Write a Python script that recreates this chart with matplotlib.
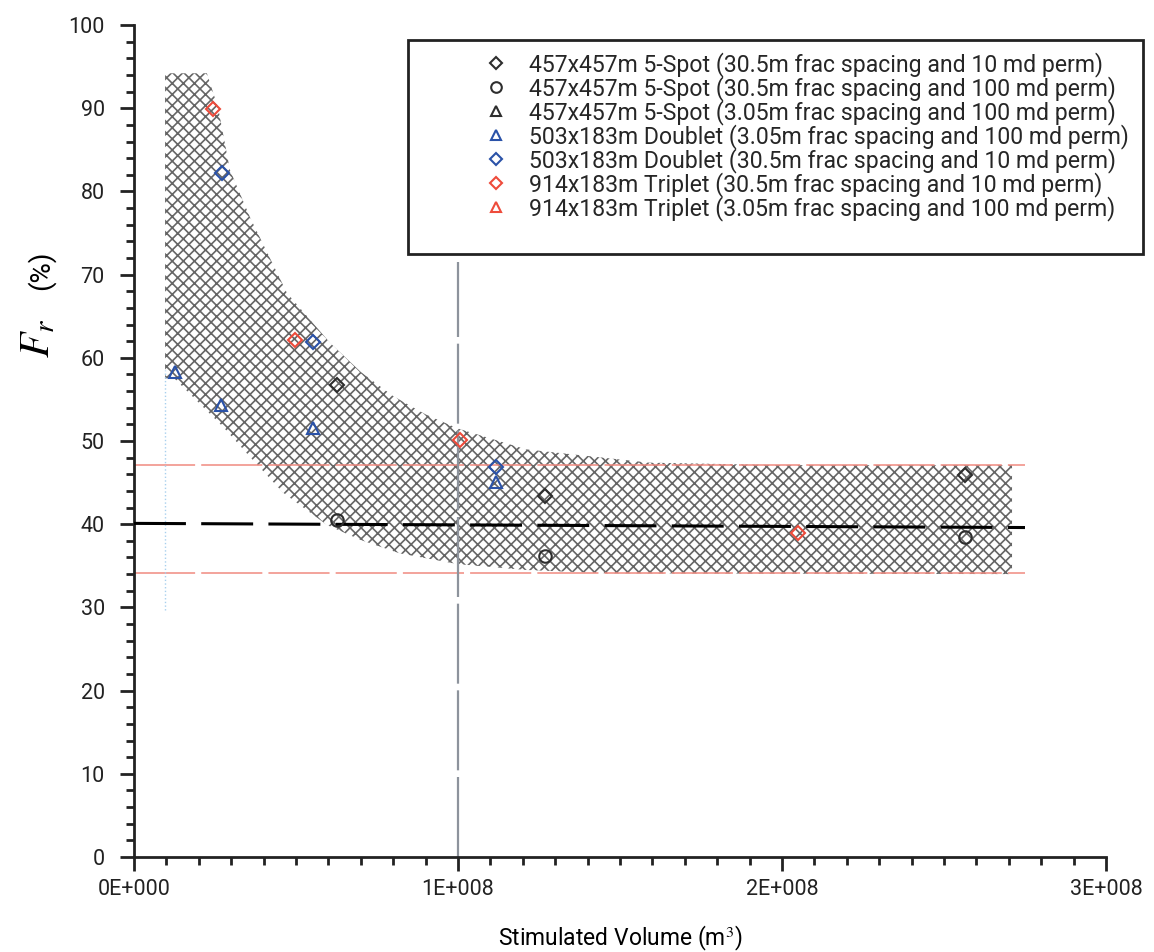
import matplotlib
matplotlib.use("Agg")
import matplotlib.pyplot as plt
from matplotlib.patches import Rectangle
from matplotlib.ticker import MultipleLocator, FuncFormatter

plt.rcParams['font.family'] = ['Roboto', 'DejaVu Sans']
plt.rcParams['mathtext.fontset'] = 'stix'
plt.rcParams['hatch.linewidth'] = 1.2

# data (volume in m3, Fr in %)
vol_5spot_10md = [6.27e7, 1.27e8, 2.565e8]
fr_5spot_10md = [56.7, 43.4, 45.9]
vol_5spot_100md = [6.27e7, 1.27e8, 2.565e8]
fr_5spot_100md = [40.5, 36.2, 38.5]
vol_5spot_305 = []
fr_5spot_305 = []
vol_doublet_305 = [1.27e7, 2.69e7, 5.52e7, 1.117e8]
fr_doublet_305 = [58.3, 54.3, 51.6, 45.1]
vol_doublet_30 = [2.71e7, 5.52e7, 1.117e8]
fr_doublet_30 = [82.2, 61.9, 46.9]
vol_triplet_30 = [2.44e7, 4.97e7, 1.006e8, 2.05e8]
fr_triplet_30 = [89.9, 62.1, 50.1, 38.9]
vol_triplet_305 = []
fr_triplet_305 = []

labels = [
    "457x457m 5-Spot (30.5m frac spacing and 10 md perm)",
    "457x457m 5-Spot (30.5m frac spacing and 100 md perm)",
    "457x457m 5-Spot (3.05m frac spacing and 100 md perm)",
    "503x183m Doublet (3.05m frac spacing and 100 md perm)",
    "503x183m Doublet (30.5m frac spacing and 10 md perm)",
    "914x183m Triplet (30.5m frac spacing and 10 md perm)",
    "914x183m Triplet (3.05m frac spacing and 100 md perm)",
]

# envelope of the shaded band
band_up_x = [0.96e7, 2.25e7, 2.6e7, 2.96e7, 3.58e7, 4.72e7, 6.05e7, 7.0e7, 8.0e7, 9.0e7,
             1.0e8, 1.21e8, 1.59e8, 2.0e8, 2.71e8]
band_up_y = [94.2, 94.2, 90.0, 82.6, 76.9, 67.8, 61.8, 58.3, 55.4, 53.2,
             51.5, 49.0, 47.4, 47.1, 47.1]
band_lo_x = [0.96e7, 1.2e7, 2.75e7, 3.58e7, 4.6e7, 5.96e7, 7.0e7, 8.2e7, 1.0e8, 1.21e8, 1.46e8, 2.71e8]
band_lo_y = [57.5, 57.7, 51.7, 48.1, 43.8, 39.9, 38.1, 36.5, 35.2, 34.5, 34.1, 34.0]

mean_fr = [40.1, 39.6]
mean_x = [0, 2.75e8]
upper_fr = 47.1
lower_fr = 34.1
ref_vol = 1e8

black = '#2e2e2e'
blue = '#2a52a8'
red = '#ee4b3b'

fig = plt.figure(figsize=(11.54, 9.52), dpi=100)
ax = fig.add_axes([0.1161, 0.0998, 0.8423, 0.8739])

poly_x = band_up_x + band_lo_x[::-1]
poly_y = band_up_y + band_lo_y[::-1]
ax.fill(poly_x, poly_y, facecolor='none', edgecolor='#666666', hatch='xxx', linewidth=0, zorder=1)

ax.plot(mean_x, mean_fr, color='black', lw=2.2, dashes=(17, 5), zorder=3)
ax.plot(mean_x, [upper_fr, upper_fr], color='#f08a80', lw=1.1, dashes=(40, 4), zorder=2)
ax.plot(mean_x, [lower_fr, lower_fr], color='#f08a80', lw=1.1, dashes=(40, 4), zorder=2)
ax.plot([ref_vol, ref_vol], [0, 71.5], color='#8d939c', lw=1.6, dashes=(36, 3), zorder=2)
ax.plot([0.96e7, 0.96e7], [29.7, 58.5], color='#a8d0ee', lw=1.0, ls=':', zorder=2)

mk = dict(linestyle='none', markerfacecolor='none', markeredgewidth=1.5, zorder=4)
ax.plot(vol_5spot_10md, fr_5spot_10md, marker='D', ms=7, color=black, label=labels[0], **mk)
ax.plot(vol_5spot_100md, fr_5spot_100md, marker='o', ms=9, color=black, label=labels[1], **mk)
ax.plot(vol_5spot_305, fr_5spot_305, marker='^', ms=8, color=black, label=labels[2], **mk)
ax.plot(vol_doublet_305, fr_doublet_305, marker='^', ms=8, color=blue, label=labels[3], **mk)
ax.plot(vol_doublet_30, fr_doublet_30, marker='D', ms=7, color=blue, label=labels[4], **mk)
ax.plot(vol_triplet_30, fr_triplet_30, marker='D', ms=7, color=red, label=labels[5], **mk)
ax.plot(vol_triplet_305, fr_triplet_305, marker='^', ms=8, color=red, label=labels[6], **mk)

ax.set_xlim(0, 3e8)
ax.set_ylim(0, 100)
ax.xaxis.set_major_locator(MultipleLocator(1e8))
ax.xaxis.set_minor_locator(MultipleLocator(1e7))
ax.yaxis.set_major_locator(MultipleLocator(10))
ax.yaxis.set_minor_locator(MultipleLocator(2))
ax.xaxis.set_major_formatter(FuncFormatter(lambda v, p: "%dE+%s" % (round(v / 1e8), "000" if v == 0 else "008")))

for s in ['top', 'right']:
    ax.spines[s].set_visible(False)
for s in ['left', 'bottom']:
    ax.spines[s].set_linewidth(2)
    ax.spines[s].set_color('#222222')
ax.tick_params(which='major', direction='out', length=10, width=2, labelsize=15.5, colors='#222222', pad=6)
ax.tick_params(which='minor', direction='out', length=6, width=2, colors='#222222')
ax.tick_params(axis='y', which='major', pad=11)

ax.set_xlabel(r"Stimulated Volume (m$^3$)", fontsize=16.5, labelpad=17)
fig.text(38 / 1154, 1 - 338 / 952, r"$F_r$", fontsize=30, rotation=90, ha='center', va='center')
fig.text(41 / 1154, 1 - 270 / 952, "(%)", fontsize=20, rotation=90, ha='center', va='center')

# legend box drawn separately so the markers can sit well inside it
fig.patches.append(Rectangle((408 / 1154, 1 - 254 / 952), (1143 - 408) / 1154, 214 / 952,
                             transform=fig.transFigure, facecolor='white', edgecolor='#222222',
                             linewidth=2, zorder=5))
leg = fig.legend(*ax.get_legend_handles_labels(), loc='upper left',
                 bbox_to_anchor=(484 / 1154, 1 - 52 / 952), bbox_transform=fig.transFigure,
                 fontsize=16.6, frameon=False, borderpad=0, labelspacing=-0.04,
                 handlelength=1.0, handletextpad=0.95, borderaxespad=0, markerscale=0.85)
for t in leg.get_texts():
    t.set_color('#262626')
leg.set_zorder(6)

fig.savefig("out.png", dpi=100)
